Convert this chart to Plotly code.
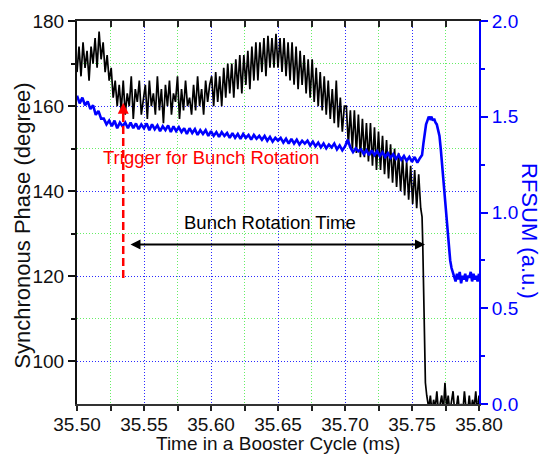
import numpy as np
import plotly.graph_objects as go

# ---------------- data ----------------
# Synchronous phase (degree), sampled every 0.0015 ms from 35.500 ms
phase_a = [168, 174, 167, 175, 169, 173, 166, 174, 170]
phase_b = [176, 169, 177.5, 171, 175, 168]
phase_c = [172, 166, 169, 162, 166, 160]
phase_d = [165, 159, 166, 158, 163, 160, 167, 157, 164, 161, 166, 158, 162, 165, 157, 166,
           160, 163, 158, 167, 159, 164, 156, 165, 160, 166, 158, 163, 161, 167, 157, 164,
           159, 166, 160, 162, 158, 165, 159, 167, 160, 164, 158, 166, 161, 165]
phase_e = [167, 160, 168, 161, 167, 160, 169, 162, 170, 163, 170, 162, 171, 164, 172, 163,
           172, 165, 173, 164, 174, 166, 175, 166, 175, 168, 176, 167, 176.5, 169, 176, 169]
phase_f = [177, 169, 176, 168, 176, 167, 175, 166, 175, 165, 174, 164, 173, 165, 172, 163,
           171, 162, 171, 161, 169, 160, 168, 159, 167, 158, 166, 157, 164, 156, 166, 155,
           162, 154, 160]
phase_g = [160, 151, 159, 150, 159, 149, 158, 148, 157, 148, 156, 147, 156, 146, 155, 145,
           154, 145, 153, 144, 152, 143, 151, 142, 150, 141, 149, 140, 148, 139, 147, 138,
           146, 137, 145, 136, 144, 136]
phase_step = 0.0015
phase_start = 35.500
# fall of the phase after the bunch rotation
drop_t = [35.7575, 35.758, 35.7585, 35.759, 35.7595, 35.760, 35.761, 35.762]
drop_v = [134, 128, 118, 108, 100, 95, 92, 90.5]
# noise at the bottom after the fall (35.7625 .. 35.800 ms)
tail_v = [89, 92, 88, 91, 89, 93, 88, 90, 92, 88, 95, 89, 92, 88, 91, 93,
          88, 89, 92, 88, 90, 88, 93, 89, 88, 92, 88, 91, 89, 93, 88, 92]
tail_t0, tail_t1 = 35.7625, 35.800

# RFSUM (a.u.), sampled every 0.002 ms from 35.500 ms
rf_main = [1.61, 1.57, 1.60, 1.56, 1.58, 1.54, 1.56, 1.51, 1.53, 1.49,
           1.49, 1.46, 1.48, 1.45, 1.48, 1.44, 1.47, 1.45, 1.47, 1.44,
           1.47, 1.44, 1.465, 1.435, 1.46, 1.44, 1.465, 1.43, 1.46, 1.435,
           1.455, 1.425, 1.45, 1.43, 1.455, 1.42, 1.45, 1.425, 1.445, 1.42,
           1.44, 1.41, 1.44, 1.415, 1.435, 1.405, 1.43, 1.41, 1.43, 1.40,
           1.425, 1.40, 1.42, 1.395, 1.42, 1.40, 1.415, 1.39, 1.415, 1.39,
           1.41, 1.385, 1.41, 1.39, 1.405, 1.38, 1.405, 1.385, 1.40, 1.38,
           1.40, 1.375, 1.395, 1.37, 1.39, 1.375, 1.39, 1.365, 1.385, 1.36,
           1.385, 1.36, 1.38, 1.355, 1.375, 1.36, 1.375, 1.35, 1.37, 1.345,
           1.365, 1.34, 1.36, 1.335, 1.355, 1.34, 1.36, 1.33, 1.35, 1.325,
           1.345, 1.38, 1.34, 1.315, 1.335, 1.32, 1.33, 1.305, 1.325, 1.30,
           1.325, 1.30, 1.32, 1.295, 1.315, 1.29, 1.31, 1.285, 1.305, 1.28,
           1.30, 1.275, 1.295, 1.27, 1.29, 1.265, 1.29, 1.26, 1.285]
rf_step = 0.002
rf_start = 35.500
rf_peak_t = [35.7575, 35.7585, 35.7595, 35.7605, 35.7615, 35.7625, 35.7635, 35.7645,
             35.7655, 35.7665, 35.7675, 35.7685, 35.7695, 35.7705, 35.7715, 35.7725,
             35.7735, 35.7745, 35.7755, 35.7765, 35.7775, 35.7785, 35.7795, 35.7805]
rf_peak_v = [1.30, 1.36, 1.42, 1.46, 1.48, 1.50, 1.49, 1.50, 1.48, 1.49, 1.47, 1.46,
             1.43, 1.40, 1.33, 1.25, 1.16, 1.07, 0.98, 0.89, 0.81, 0.75, 0.71, 0.69]
rf_flat_v = [0.67, 0.64, 0.68, 0.65, 0.69, 0.63, 0.67, 0.65, 0.68, 0.64,
             0.67, 0.66, 0.69, 0.64, 0.68, 0.65, 0.67, 0.64, 0.68]
rf_flat_t0, rf_flat_t1 = 35.7815, 35.800

# axes
x_range = [35.50, 35.80]
x_ticks = [35.50, 35.55, 35.60, 35.65, 35.70, 35.75, 35.80]
x_minor = [35.525, 35.575, 35.625, 35.675, 35.725, 35.775]
y_range = [90, 180]
y_ticks = [100, 120, 140, 160, 180]
y_minor = [110, 130, 150, 170]
y2_range = [0, 2.0]
y2_ticks = [0.0, 0.5, 1.0, 1.5, 2.0]
y2_labels = ["0.0", "0.5", "1.0", "1.5", "2.0"]
y2_minor = [0.25, 0.75, 1.25, 1.75]

# annotations
trigger_t = 35.5345
trigger_lo, trigger_hi = 119.6, 160.8
rot_t0, rot_t1, rot_y = 35.5388, 35.7597, 127.5

# ---------------- build series ----------------
phase_main = phase_a + phase_b + phase_c + phase_d + phase_e + phase_f + phase_g
t_main = phase_start + phase_step * np.arange(len(phase_main))
t_tail = np.linspace(tail_t0, tail_t1, len(tail_v))
t_phase = np.concatenate([t_main, drop_t, t_tail])
v_phase = np.concatenate([phase_main, drop_v, tail_v])

t_rf_main = rf_start + rf_step * np.arange(len(rf_main))
t_rf_flat = np.linspace(rf_flat_t0, rf_flat_t1, len(rf_flat_v))
t_rf = np.concatenate([t_rf_main, rf_peak_t, t_rf_flat])
v_rf = np.concatenate([rf_main, rf_peak_v, rf_flat_v])

FONT = "Liberation Sans, Arial, sans-serif"
BLUE = "#0000ff"
GRID_BLUE = "#2a2aff"
GRID_GREEN = "#66ee66"

fig = go.Figure()
fig.add_trace(go.Scatter(x=t_phase, y=v_phase, mode="lines",
                         line=dict(color="black", width=1.7), xaxis="x", yaxis="y",
                         showlegend=False, hoverinfo="skip"))
fig.add_trace(go.Scatter(x=t_rf, y=v_rf, mode="lines",
                         line=dict(color=BLUE, width=2.6), xaxis="x", yaxis="y2",
                         showlegend=False, hoverinfo="skip"))
# invisible trace to anchor the top axis
fig.add_trace(go.Scatter(x=x_range, y=y_range, mode="markers", marker=dict(opacity=0),
                         xaxis="x2", yaxis="y", showlegend=False, hoverinfo="skip"))

fig.update_layout(
    width=544, height=457,
    margin=dict(l=77, r=65, t=21, b=53),
    paper_bgcolor="white", plot_bgcolor="white",
    font=dict(family=FONT, size=19, color="black"),
    xaxis=dict(range=x_range, tickvals=x_ticks, ticktext=[f"{v:.2f}" for v in x_ticks],
               ticks="outside", ticklen=5, tickwidth=1.5, tickcolor="#222",
               ticklabelstandoff=-3,
               showline=True, linecolor="#333", linewidth=2,
               showgrid=True, gridcolor=GRID_BLUE, gridwidth=1, griddash="1px,2px",
               zeroline=False, tickfont=dict(size=19, color="#111"),
               minor=dict(tickvals=x_minor, ticks="outside", ticklen=5, tickwidth=1.5,
                          tickcolor="#222", showgrid=True, gridcolor=GRID_GREEN,
                          gridwidth=1, griddash="1px,2px")),
    xaxis2=dict(range=x_range, overlaying="x", side="top", anchor="y",
                tickvals=x_ticks, ticks="inside", ticklen=6, tickwidth=1.5, tickcolor="#222",
                showticklabels=False, showline=True, linecolor="#222", linewidth=1.5,
                showgrid=False, zeroline=False,
                minor=dict(tickvals=x_minor, ticks="inside", ticklen=6, tickwidth=1.5,
                           tickcolor="#222", showgrid=False)),
    yaxis=dict(range=y_range, tickvals=y_ticks, ticks="outside", ticklen=7, tickwidth=1.5,
               tickcolor="#111", showline=True, linecolor="#111", linewidth=2,
               showgrid=True, gridcolor=GRID_BLUE, gridwidth=1, griddash="1px,2px",
               zeroline=False, tickfont=dict(size=19, color="#111"),
               minor=dict(tickvals=y_minor, ticks="outside", ticklen=4, tickwidth=1.5,
                          tickcolor="#111", showgrid=True, gridcolor=GRID_GREEN,
                          gridwidth=1, griddash="1px,2px")),
    yaxis2=dict(range=y2_range, overlaying="y", side="right", anchor="x",
                tickvals=y2_ticks, ticktext=y2_labels, ticks="outside", ticklen=7,
                tickwidth=1.5, tickcolor=BLUE, showline=True, linecolor=BLUE, linewidth=2,
                showgrid=False, zeroline=False, tickfont=dict(size=19, color=BLUE),
                minor=dict(tickvals=y2_minor, ticks="outside", ticklen=4, tickwidth=1.5,
                           tickcolor=BLUE, showgrid=False)),
)

# red dashed trigger line with arrowhead
fig.add_shape(type="line", xref="x", yref="y", x0=trigger_t, x1=trigger_t,
              y0=trigger_lo, y1=trigger_hi - 2.5,
              line=dict(color="#ff0000", width=2.5, dash="8px,4px"))
fig.add_annotation(x=trigger_t, y=trigger_hi, ax=trigger_t, ay=trigger_hi - 3,
                   xref="x", yref="y", axref="x", ayref="y", text="", showarrow=True,
                   arrowhead=2, arrowsize=1, arrowwidth=2.2, arrowcolor="#ff0000")
# double arrow for rotation time
fig.add_annotation(x=rot_t1, y=rot_y, ax=rot_t0, ay=rot_y,
                   xref="x", yref="y", axref="x", ayref="y", text="", showarrow=True,
                   arrowhead=2, startarrowhead=2, arrowside="end+start",
                   arrowsize=1, startarrowsize=1, arrowwidth=2, arrowcolor="black")

fig.add_annotation(x=35.600, y=148.0, xref="x", yref="y", text="Trigger for Bunch Rotation",
                   showarrow=False, font=dict(family=FONT, size=18.5, color="#ff0000"),
                   xanchor="center", yanchor="middle")
fig.add_annotation(x=35.644, y=132.6, xref="x", yref="y", text="Bunch Rotation Time",
                   showarrow=False, font=dict(family=FONT, size=18.5, color="black"),
                   xanchor="center", yanchor="middle")

# axis titles
fig.add_annotation(x=-0.1356, y=0.467, xref="paper", yref="paper",
                   text="Synchronous Phase (degree)", textangle=-90, showarrow=False,
                   font=dict(family=FONT, size=22, color="#111"),
                   xanchor="center", yanchor="middle")
fig.add_annotation(x=1.124, y=0.452, xref="paper", yref="paper",
                   text="RFSUM (a.u.)", textangle=90, showarrow=False,
                   font=dict(family=FONT, size=22, color=BLUE),
                   xanchor="center", yanchor="middle")
fig.add_annotation(x=0.4988, y=-0.102, xref="paper", yref="paper",
                   text="Time in a Booster Cycle (ms)", showarrow=False,
                   font=dict(family=FONT, size=19, color="#111"),
                   xanchor="center", yanchor="middle")

fig.write_html("out.html")
